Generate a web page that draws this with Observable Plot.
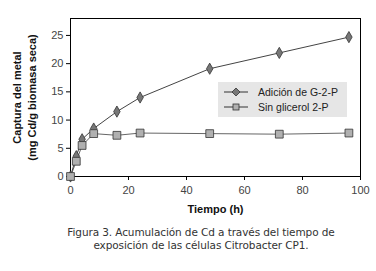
<!DOCTYPE html>
<html><head><meta charset="utf-8">
<script src="https://cdn.jsdelivr.net/npm/d3@7"></script>
<script src="https://cdn.jsdelivr.net/npm/@observablehq/plot@0.6"></script>
<style>
body{margin:0;background:#fff;width:376px;height:271px;overflow:hidden;font-family:"Liberation Sans",Arial,sans-serif;}
#wrap{position:relative;width:376px;}
#legend{position:absolute;left:218px;top:82px;width:129px;height:35px;background:#e6e6e6;font-size:10.5px;color:#222;}
#legend .row{position:absolute;left:0;display:flex;align-items:center;}
#cap{font-family:"DejaVu Sans",sans-serif;font-size:10.5px;color:#333;text-align:center;line-height:12.5px;margin-top:4px;letter-spacing:-0.1px;width:376px;padding-left:26px;box-sizing:border-box;}
</style></head>
<body>
<div id="wrap"><div id="chart"></div>
<div id="legend"></div></div>
<div id="cap"></div>
<script>
const tiempo = [0, 2, 4, 8, 16, 24, 48, 72, 96];
const conG2P = [0, 3.6, 6.6, 8.5, 11.5, 14.0, 19.1, 21.9, 24.7];
const sinG2P = [0, 2.7, 5.5, 7.6, 7.3, 7.7, 7.6, 7.5, 7.7];
const seriesNames = ["Adición de G-2-P", "Sin glicerol 2-P"];
const xTicks = [0, 20, 40, 60, 80, 100];
const yTicks = [0, 5, 10, 15, 20, 25];
const captionLines = ["Figura 3. Acumulación de Cd a través del tiempo de", "exposición de las células Citrobacter CP1."];

const a = tiempo.map((t,i)=>({t, v: conG2P[i]}));
const b = tiempo.map((t,i)=>({t, v: sinG2P[i]}));

const chart = Plot.plot({
  width: 376, height: 222,
  marginLeft: 70, marginRight: 16, marginTop: 18, marginBottom: 46,
  style: {fontFamily: "Liberation Sans, Arial, sans-serif", fontSize: "11px", color: "#333"},
  x: {domain: [0, 100], ticks: xTicks, tickSize: 4, label: null},
  y: {domain: [0, 28], ticks: yTicks, tickSize: 4, label: null},
  marks: [
    Plot.frame({stroke: "#000", strokeWidth: 1}),
    Plot.axisX({ticks: xTicks, tickSize: 4, tickPadding: 6, fontSize: 11, fill: "#444", stroke: "#000"}),
    Plot.axisY({ticks: yTicks, tickSize: 4, tickPadding: 3, fontSize: 11, fill: "#444", stroke: "#000"}),
    Plot.line(b, {x: "t", y: "v", stroke: "#666", strokeWidth: 1}),
    Plot.line(a, {x: "t", y: "v", stroke: "#444", strokeWidth: 1}),
    Plot.dot(a, {x: "t", y: "v", symbol: "diamond", r: 3.4, fill: "#777", stroke: "#333", strokeWidth: 0.8}),
    Plot.dot(b, {x: "t", y: "v", symbol: "square", r: 4.4, fill: "#b0b0b0", stroke: "#333", strokeWidth: 0.8}),
    Plot.text(["Tiempo (h)"], {frameAnchor: "bottom", dy: 36, fontWeight: "bold", fontSize: 11, fill: "#111"}),
    Plot.text(["Captura del metal"], {frameAnchor: "left", textAnchor: "middle", dx: -53, rotate: -90, fontWeight: "bold", fontSize: 11, fill: "#111"}),
    Plot.text(["(mg Cd/g biomasa seca)"], {frameAnchor: "left", textAnchor: "middle", dx: -38, rotate: -90, fontWeight: "bold", fontSize: 11, fill: "#111"})
  ]
});
document.getElementById("chart").appendChild(chart);

// legend
const leg = document.getElementById("legend");
const syms = [
  `<polygon points="12,2 16,6 12,10 8,6" fill="#777" stroke="#333" stroke-width="0.8"/>`,
  `<rect x="9" y="3" width="6" height="6" fill="#b0b0b0" stroke="#333" stroke-width="0.8"/>`
];
seriesNames.forEach((n,i)=>{
  const r = document.createElement("div");
  r.className = "row";
  r.style.top = (i===0 ? 4 : 19) + "px";
  r.innerHTML = `<svg width="26" height="12" style="margin-left:6px"><line x1="0" x2="24" y1="6" y2="6" stroke="#333" stroke-width="1"/>${syms[i]}</svg><span style="margin-left:8px">${n}</span>`;
  leg.appendChild(r);
});
document.getElementById("cap").innerHTML = captionLines.join("<br>");
</script>
</body></html>
